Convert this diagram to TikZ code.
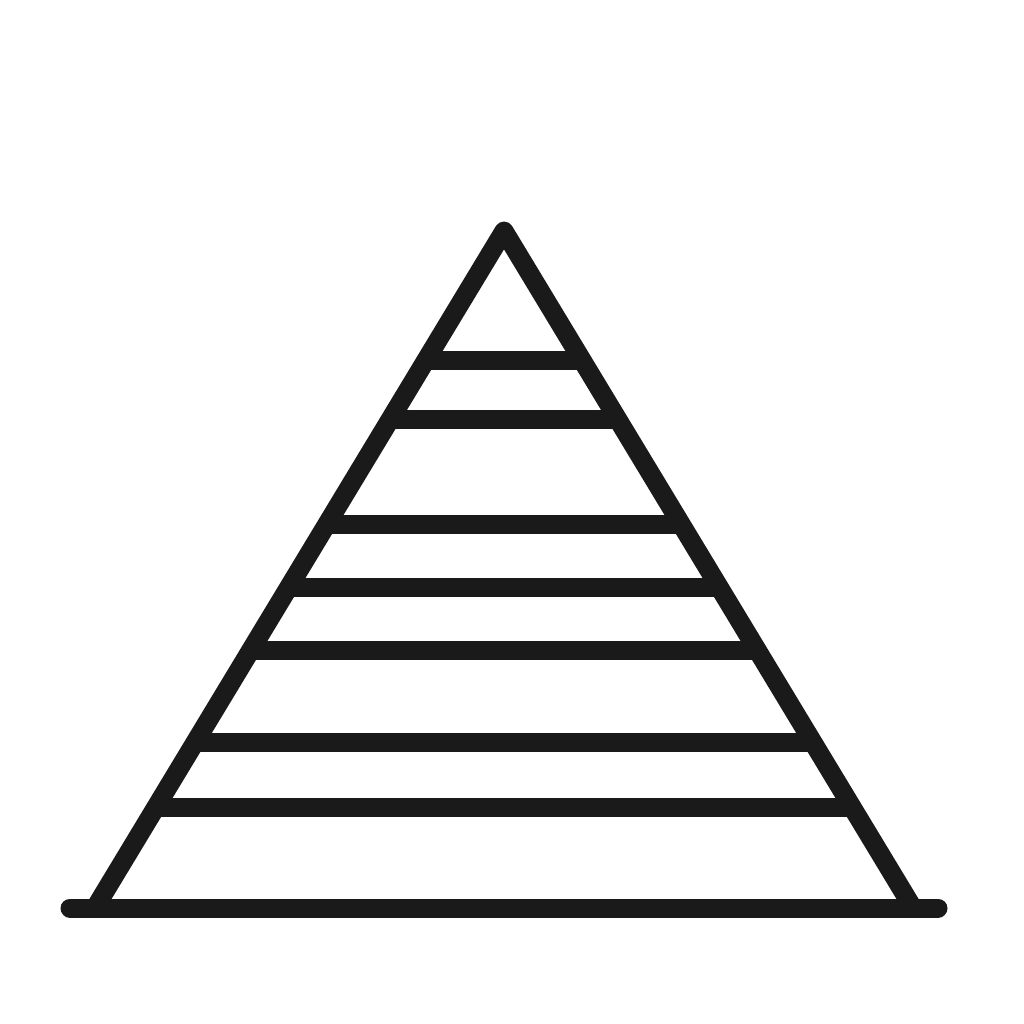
\documentclass[tikz,border=0pt]{standalone}
\usetikzlibrary{calc}
\definecolor{ink}{RGB}{26,26,26}
\begin{document}
\begin{tikzpicture}[x=0.01cm,y=-0.01cm,
  stroke/.style={draw=ink,line width=5.4pt},
  shelf/.style={stroke,line cap=butt}]
\useasboundingbox[fill=white] (0,0) rectangle (1024,1024);
\coordinate (A) at (504,231);
\coordinate (L) at (95,908);
\coordinate (R) at (913,908);
\coordinate (B1) at (70,908);
\coordinate (B2) at (938,908);
% sides
\draw[stroke,line join=round] (L) -- (A) -- (R);
% shelves
\foreach \t in {0.192,0.279,0.433,0.527,0.619,0.755,0.852}{
  \draw[shelf] ($(A)!\t!(L)$) -- ($(A)!\t!(R)$);
}
% base
\draw[stroke,line cap=round] (B1) -- (B2);
\end{tikzpicture}
\end{document}
